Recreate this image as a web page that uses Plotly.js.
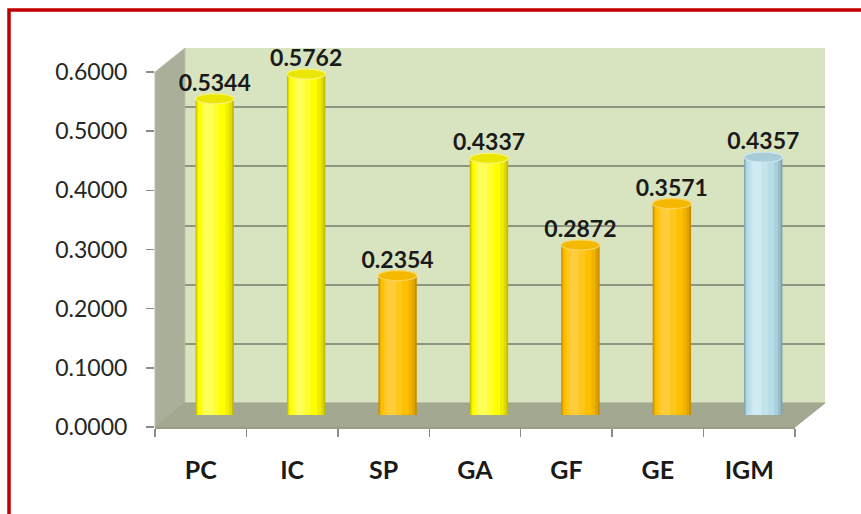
<!DOCTYPE html>
<html><head><meta charset="utf-8">
<script src="https://cdn.plot.ly/plotly-3.0.1.min.js"></script>
<style>html,body{margin:0;padding:0;background:#fff}#chart{width:861px;height:514px}</style>
</head><body><div id="chart"></div>
<script>
// ---- data ----
const categories = ['PC', 'IC', 'SP', 'GA', 'GF', 'GE', 'IGM'];
const values = [0.5344, 0.5762, 0.2354, 0.4337, 0.2872, 0.3571, 0.4357];
const colorGroups = ['yellow', 'yellow', 'orange', 'yellow', 'orange', 'orange', 'blue'];
const yTickValues = [0, 0.1, 0.2, 0.3, 0.4, 0.5, 0.6];

// ---- styling ----
const palette = {
  yellow: {edge: [196, 188, 0], main: [255, 255, 0], hi: [255, 255, 150], top: '#ebe600', rim: '#f7f36e'},
  orange: {edge: [200, 140, 0], main: [255, 192, 0], hi: [255, 214, 100], top: '#f5b800', rim: '#fbd35a'},
  blue:   {edge: [128, 164, 178], main: [183, 222, 232], hi: [225, 243, 248], top: '#a7cbd7', rim: '#cbe6ee'}
};
const mix = (a, b, t) => 'rgb(' + a.map((v, k) => Math.round(v + (b[k] - v) * t)).join(',') + ')';
// cylinder shading bands: [left, right] relative to the bar centre, and a tone
// tone 0..1 blends edge->main, 1..2 blends main->highlight
const barW = 0.42;
const bands = [
  {l: -0.21, r: 0.21, tone: 0.0},
  {l: -0.2, r: 0.19, tone: 0.45},
  {l: -0.19, r: 0.16, tone: 0.75},
  {l: -0.18, r: 0.12, tone: 1.0},
  {l: -0.15, r: 0.05, tone: 1.3},
  {l: -0.12, r: -0.02, tone: 1.6}
];
const toneColor = (g, tone) => tone <= 1 ? mix(g.edge, g.main, tone) : mix(g.main, g.hi, tone - 1);

const W = 861, H = 514;
const fx = v => v / W, fy = v => 1 - v / H;
const F = {x0: 155, x1: 795, yb: 427, yt: 72};
const M = {dx: 14, dy: -12};
const B = {dx: 30, dy: -24};
const yMax = 0.6;
const pxPerUnit = (F.yb - F.yt) / yMax;
const ellH = 5 / pxPerUnit;

const font = 'Lato, "Open Sans", sans-serif';

const traces = [];
traces.push({type: 'scatter', x: categories, y: values, xaxis: 'x', yaxis: 'y',
  mode: 'markers', marker: {opacity: 0}, hoverinfo: 'skip', showlegend: false});
traces.push({type: 'scatter', x: categories, y: values, xaxis: 'x2', yaxis: 'y2',
  mode: 'markers', marker: {opacity: 0}, hoverinfo: 'skip', showlegend: false});
bands.forEach((b, j) => {
  const t = {type: 'bar', x: categories, y: values, xaxis: 'x3', yaxis: 'y3',
    width: b.r - b.l, offset: b.l,
    marker: {color: colorGroups.map(g => toneColor(palette[g], b.tone)), line: {width: 0}},
    hoverinfo: 'skip', showlegend: false};
  if (j === 0) {
    Object.assign(t, {text: values.map(v => v.toFixed(4)), textposition: 'outside',
      constraintext: 'none', cliponaxis: false,
      textfont: {family: font, size: 23, weight: 'bold', color: '#1a1a1a'}});
  }
  traces.push(t);
});

const shapes = [];
shapes.push({type: 'rect', xref: 'paper', yref: 'paper', layer: 'below',
  x0: fx(F.x0 + B.dx), x1: fx(F.x1 + B.dx), y0: fy(F.yb + B.dy), y1: fy(F.yt + B.dy),
  fillcolor: '#d8e4bf', line: {width: 0}});
const path = pts => 'M' + pts.map(p => fx(p[0]) + ',' + fy(p[1])).join(' L') + ' Z';
shapes.push({type: 'path', xref: 'paper', yref: 'paper', layer: 'below',
  path: path([[F.x0, F.yt], [F.x0 + B.dx, F.yt + B.dy], [F.x0 + B.dx, F.yb + B.dy], [F.x0, F.yb]]),
  fillcolor: '#a9af98', line: {color: '#bcc1ac', width: 1}});
shapes.push({type: 'path', xref: 'paper', yref: 'paper', layer: 'below',
  path: path([[F.x0, F.yb], [F.x0 + B.dx, F.yb + B.dy], [F.x1 + B.dx, F.yb + B.dy], [F.x1, F.yb]]),
  fillcolor: '#a3a890', line: {color: '#9ea38b', width: 1}});
shapes.push({type: 'rect', xref: 'paper', yref: 'paper', layer: 'above',
  x0: fx(9), x1: fx(880), y0: fy(10), y1: fy(540),
  fillcolor: 'rgba(0,0,0,0)', line: {color: '#c00000', width: 3.5}});
values.forEach((v, i) => {
  const g = palette[colorGroups[i]];
  shapes.push({type: 'circle', xref: 'x3', yref: 'y3', layer: 'between',
    x0: i - barW / 2, x1: i + barW / 2, y0: -ellH, y1: ellH,
    fillcolor: mix(g.edge, g.main, 0.6), line: {width: 0}});
  shapes.push({type: 'circle', xref: 'x3', yref: 'y3', layer: 'above',
    x0: i - barW / 2, x1: i + barW / 2, y0: v - ellH, y1: v + ellH,
    fillcolor: g.top, line: {color: g.rim, width: 1.2}});
});

const hidden = {visible: false, fixedrange: true};
const layout = {
  width: W, height: H,
  margin: {l: 0, r: 0, t: 0, b: 0},
  paper_bgcolor: '#ffffff', plot_bgcolor: 'rgba(0,0,0,0)',
  showlegend: false, barmode: 'overlay',
  xaxis: {domain: [fx(F.x0 + B.dx), fx(F.x1 + B.dx)], anchor: 'y', type: 'category',
    range: [-0.5, 6.5], showgrid: false, showticklabels: false, ticks: '', showline: false,
    zeroline: false, fixedrange: true},
  yaxis: {domain: [fy(F.yb + B.dy), fy(F.yt + B.dy)], anchor: 'x', range: [0, yMax],
    tickmode: 'array', tickvals: yTickValues, showticklabels: false, ticks: '',
    showgrid: true, gridcolor: '#8e9682', gridwidth: 2, zeroline: false, showline: false,
    fixedrange: true},
  xaxis2: {domain: [fx(F.x0), fx(F.x1)], anchor: 'y2', type: 'category',
    range: [-0.5, 6.5], tickson: 'boundaries', ticks: 'outside', ticklen: 8,
    tickcolor: '#8a8a8a', tickwidth: 1.5, showline: true, linecolor: '#9a9f8a', linewidth: 1.5,
    showgrid: false, zeroline: false, ticklabelstandoff: 20,
    tickfont: {family: font, size: 25, weight: 'bold', color: '#1a1a1a'}, fixedrange: true},
  yaxis2: {domain: [fy(F.yb), fy(F.yt)], anchor: 'x2', range: [0, yMax],
    tickmode: 'array', tickvals: yTickValues, tickformat: '.4f', ticks: 'outside',
    ticklen: 8, tickcolor: '#8a8a8a', tickwidth: 1.5, showline: false, showgrid: false,
    zeroline: false, ticklabelstandoff: 14,
    tickfont: {family: font, size: 23, color: '#262626'}, fixedrange: true},
  xaxis3: Object.assign({domain: [fx(F.x0 + M.dx), fx(F.x1 + M.dx)], anchor: 'y3',
    type: 'category', range: [-0.5, 6.5]}, hidden),
  yaxis3: Object.assign({domain: [fy(F.yb + M.dy), fy(F.yt + M.dy)], anchor: 'x3',
    range: [0, yMax]}, hidden),
  shapes: shapes
};

Plotly.newPlot('chart', traces, layout, {displayModeBar: false, staticPlot: true});
</script>
</body></html>
